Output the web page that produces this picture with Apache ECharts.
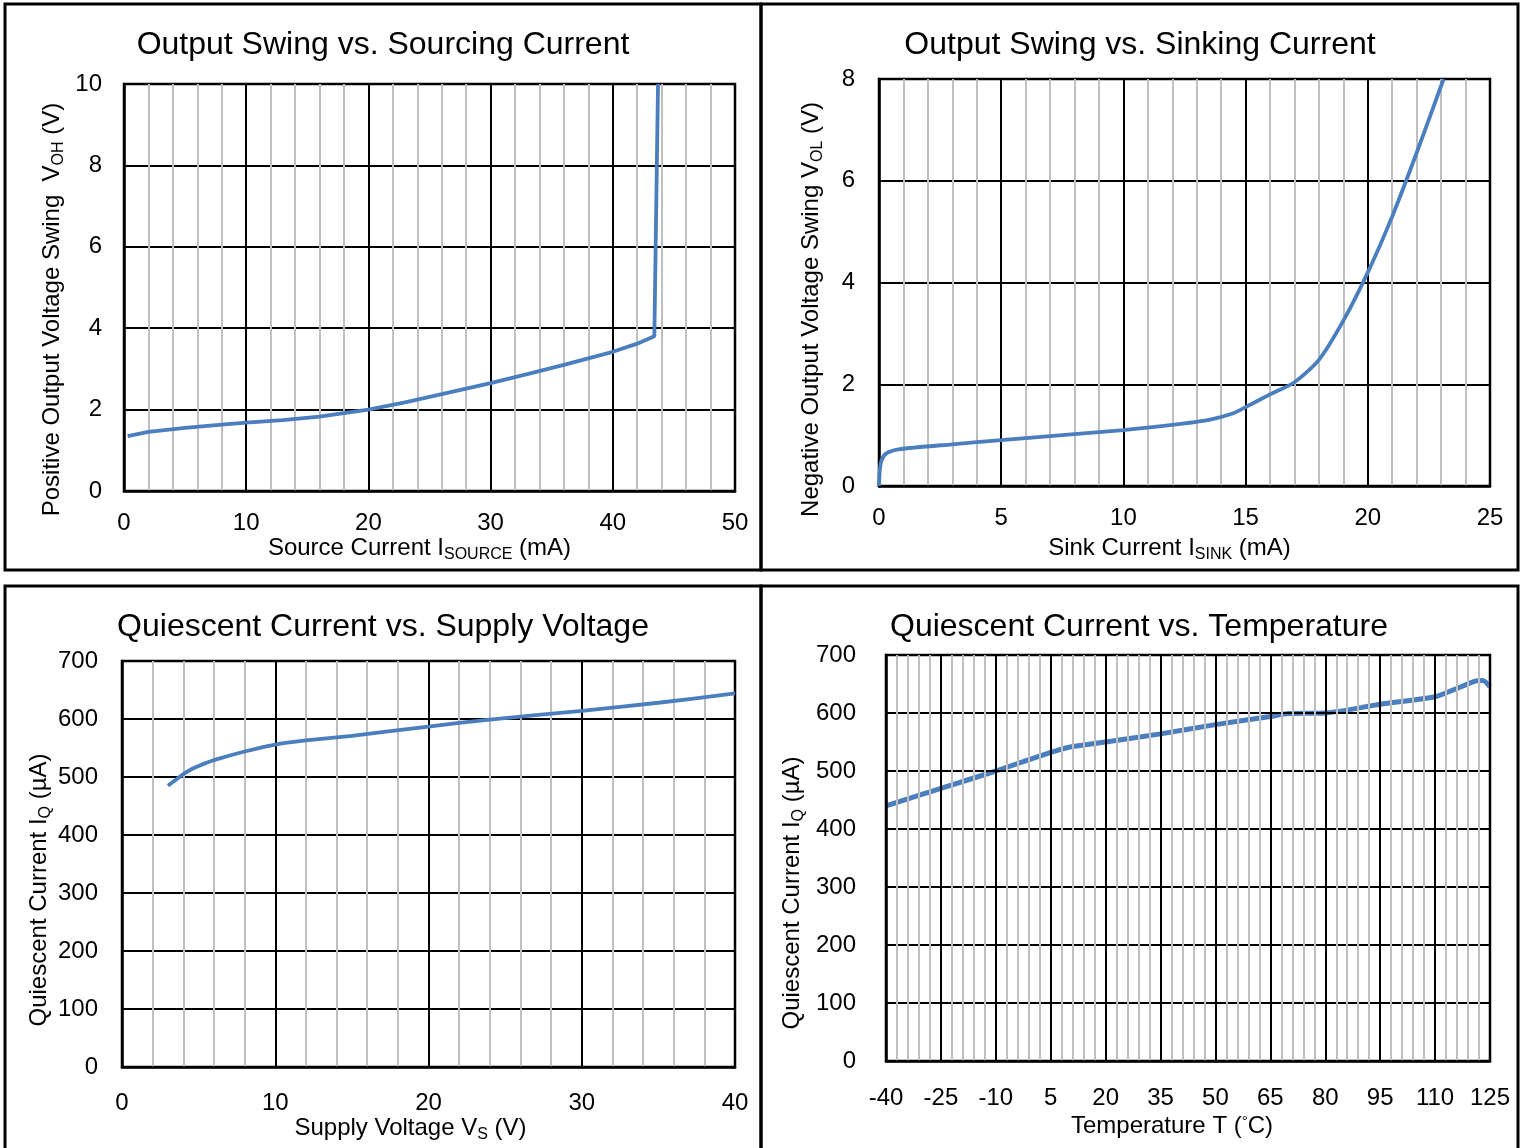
<!DOCTYPE html>
<html>
<head>
<meta charset="utf-8">
<script src="https://cdn.jsdelivr.net/npm/echarts@6/dist/echarts.min.js"></script>
<style>
html,body{margin:0;padding:0;background:#fff;}
#c{width:1521px;height:1148px;}
</style>
</head>
<body>
<div id="c"></div>
<script>
// ---------- DATA ----------
var titles = ['Output Swing vs. Sourcing Current', 'Output Swing vs. Sinking Current',
              'Quiescent Current vs. Supply Voltage', 'Quiescent Current vs. Temperature'];

var sourceCurrent = [0.3, 2, 5, 8, 10, 13, 16, 20, 23, 26, 30, 33, 36, 40, 42, 43.4, 43.7];
var voh           = [1.35, 1.45, 1.55, 1.63, 1.68, 1.74, 1.83, 2.0, 2.18, 2.38, 2.65, 2.87, 3.1, 3.42, 3.62, 3.8, 10];

var sinkCurrent = [0, 0.03, 0.1, 0.3, 0.8, 3, 5, 8, 10, 12, 13.5, 14.5, 15, 16, 17, 18, 19, 20, 21, 22, 23.1];
var vol         = [0, 0.3, 0.5, 0.64, 0.72, 0.82, 0.9, 1.02, 1.1, 1.2, 1.3, 1.43, 1.55, 1.8, 2.04, 2.48, 3.25, 4.2, 5.3, 6.55, 8.0];

var supplyVoltage = [3, 3.5, 4, 4.5, 5, 6, 8, 10, 12, 15, 20, 24, 30, 35, 40];
var iqSupply      = [485, 495, 505, 513, 519, 529, 544, 556, 563, 571, 587, 599, 614, 628, 644];

var temperature = [-40, -25, -10, 5, 10, 20, 35, 50, 65, 70, 80, 95, 110, 115, 121, 123, 125];
var iqTemp      = [440, 470, 500, 532, 541, 550, 564, 580, 594, 599, 600, 615, 628, 640, 655, 656, 645];

var xTicks1 = [0, 50, 10];   // min, max, interval
var yTicks1 = [0, 10, 2];
var xTicks2 = [0, 25, 5];
var yTicks2 = [0, 8, 2];
var xTicks3 = [0, 40, 10];
var yTicks3 = [0, 700, 100];
var xTicks4 = [-40, 125, 15];
var yTicks4 = [0, 700, 100];

var xNames = ['Source Current I{sub|SOURCE} (mA)', 'Sink Current I{sub|SINK} (mA)',
              'Supply Voltage V{sub|S} (V)', 'Temperature T ({deg|°}C)'];
var yNames = ['Positive Output Voltage Swing  V{sub|OH} (V)', 'Negative Output Voltage Swing V{sub|OL} (V)',
              'Quiescent Current I{sub|Q} (µA)', 'Quiescent Current I{sub|Q} (µA)'];

// ---------- STYLE / LAYOUT ----------
var FONT = '"Liberation Sans", Arial, sans-serif';
var grids = [
  {left: 124, top: 84, width: 611, height: 407},
  {left: 879, top: 79, width: 611, height: 407},
  {left: 122, top: 661, width: 613, height: 406},
  {left: 886, top: 655, width: 604, height: 406}
];
var titlePos = [
  {x: 378, y: 24}, {x: 1135, y: 24}, {x: 378, y: 606}, {x: 1134, y: 606}
];
var xNameGap = [40, 50, 44, 53];
var xNamePad = [[0, 20, 0, 0], [0, 30, 0, 0], [0, 36, 0, 0], [0, 32, 0, 0]];
var xLabelMargin = [20, 20, 24, 25];
var yNameGap = [60, 56, 66, 82];
var yNamePad = [[0, 44, 0, 0], [0, 54, 0, 0], [0, 52, 0, 0], [0, 70, 0, 0]];
var yLabelMargin = [22, 24, 24, 30];
var xTicks = [xTicks1, xTicks2, xTicks3, xTicks4];
var yTicks = [yTicks1, yTicks2, yTicks3, yTicks4];
var xs = [sourceCurrent, sinkCurrent, supplyVoltage, temperature];
var ys = [voh, vol, iqSupply, iqTemp];
var LINE = '#4a7ebf';

var rich = {
  sub: {fontSize: 16, fontFamily: FONT, color: '#000', verticalAlign: 'bottom', lineHeight: 16, padding: [0, 0, -3, 0]},
  deg: {fontSize: 15, fontFamily: FONT, color: '#000', verticalAlign: 'top', lineHeight: 24}
};

var option = {
  animation: false,
  backgroundColor: '#fff',
  title: [], grid: [], xAxis: [], yAxis: [], series: [],
  graphic: [
    {type: 'rect', shape: {x: 5, y: 4, width: 756, height: 566}, style: {fill: 'none', stroke: '#000', lineWidth: 3}, z: 100},
    {type: 'rect', shape: {x: 761, y: 4, width: 757, height: 566}, style: {fill: 'none', stroke: '#000', lineWidth: 3}, z: 100},
    {type: 'rect', shape: {x: 5, y: 586, width: 756, height: 570}, style: {fill: 'none', stroke: '#000', lineWidth: 3}, z: 100},
    {type: 'rect', shape: {x: 761, y: 586, width: 757, height: 570}, style: {fill: 'none', stroke: '#000', lineWidth: 3}, z: 100}
  ]
};

for (var i = 0; i < 4; i++) {
  option.title.push({
    text: titles[i], left: titlePos[i].x, top: titlePos[i].y, textAlign: 'center',
    textStyle: {fontFamily: FONT, fontSize: 32, fontWeight: 'normal', color: '#000'}
  });
  var g = grids[i];
  option.grid.push({left: g.left, top: g.top, width: g.width, height: g.height,
    show: true, borderColor: '#000', borderWidth: 2.5, backgroundColor: '#fff', containLabel: false});
  var isTemp = (i === 3);
  option.xAxis.push({
    type: 'value', gridIndex: i,
    min: xTicks[i][0], max: xTicks[i][1], interval: xTicks[i][2],
    z: isTemp ? 5 : 1,
    name: xNames[i], nameLocation: 'middle', nameGap: xNameGap[i],
    nameTextStyle: {fontFamily: FONT, fontSize: 24, color: '#000', rich: rich, padding: xNamePad[i]},
    axisLine: {show: true, onZero: false, lineStyle: {color: '#000', width: 2.5}},
    axisTick: {show: false},
    minorTick: {show: false, splitNumber: 5},
    minorSplitLine: {show: true, lineStyle: {color: '#bfbfbf', width: 2}},
    splitLine: {show: true, lineStyle: {color: '#000', width: 2}},
    axisLabel: {fontFamily: FONT, fontSize: 24, color: '#000', margin: xLabelMargin[i]}
  });
  option.yAxis.push({
    type: 'value', gridIndex: i,
    min: yTicks[i][0], max: yTicks[i][1], interval: yTicks[i][2],
    z: isTemp ? 4 : 1,
    name: yNames[i], nameLocation: 'middle', nameGap: yNameGap[i], nameRotate: 90,
    nameTextStyle: {fontFamily: FONT, fontSize: 24, color: '#000', rich: rich, padding: yNamePad[i]},
    axisLine: {show: true, onZero: false, lineStyle: {color: '#000', width: 2.5}},
    axisTick: {show: false},
    splitLine: {show: true, lineStyle: {color: '#000', width: 2}},
    axisLabel: {fontFamily: FONT, fontSize: 24, color: '#000', margin: yLabelMargin[i]}
  });
  var pts = [];
  for (var k = 0; k < xs[i].length; k++) pts.push([xs[i][k], ys[i][k]]);
  option.series.push({
    type: 'line', xAxisIndex: i, yAxisIndex: i, data: pts,
    showSymbol: false, symbol: 'none',
    smooth: i === 0 ? false : 0.25,
    z: isTemp ? 3 : 10,
    lineStyle: {color: LINE, width: isTemp ? 5 : 3.8},
    clip: true
  });
}

var chart = echarts.init(document.getElementById('c'), null, {renderer: 'canvas'});
chart.setOption(option);
</script>
</body>
</html>
